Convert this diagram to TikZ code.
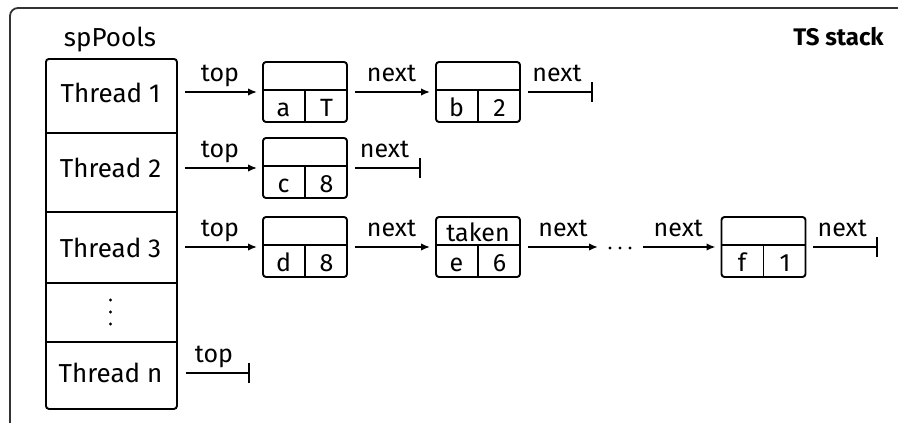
\documentclass[tikz,border=0pt]{standalone}
\usepackage{fontspec}
\setmainfont{Fira Sans}
\usetikzlibrary{arrows.meta,calc}

% one list element: name, position, top field, left field, right field
\newcommand{\listelem}[5]{%
  \node[elem] (#1) at (#2) {};
  \draw[line width=1.6pt] ([yshift=2pt]#1.west) -- ([yshift=2pt]#1.east);
  \draw[line width=1.6pt] ([yshift=2pt]#1.center) -- (#1.south);
  \node[field] at ($(#1.north)!0.5!([yshift=2pt]#1.center)$) {#3};
  \node[field] at ($(#1.south west)!0.5!([yshift=2pt]#1.center)$) {#4};
  \node[field] at ($(#1.south east)!0.5!([yshift=2pt]#1.center)$) {#5};
}

\begin{document}
\begin{tikzpicture}[x=1pt, y=-1pt, line width=1.9pt,
  font=\fontsize{26}{30}\selectfont,
  elem/.style={draw, rounded corners=3pt, minimum width=84pt,
    minimum height=60pt, inner sep=0pt},
  field/.style={inner sep=0pt, text height=21pt, text depth=0pt,
    font=\fontsize{25}{30}\selectfont},
  ptr/.style={-{Latex[length=9pt,width=7.5pt]}, shorten <=7pt, shorten >=5pt},
  nul/.style={-{Bar[width=20pt]}, shorten <=7pt},
  lbl/.style={anchor=base, yshift=11pt, inner sep=0pt,
    font=\fontsize{25}{30}\selectfont},
  dot/.style={fill, circle, inner sep=0pt, minimum size=3.2pt}]

  \useasboundingbox (0,0) rectangle (898,423);
  \clip (0,0) rectangle (898,423);

  % outer frame
  \draw[black!80, line width=1.8pt, rounded corners=8pt] (10,440) -- (10,8) -- (920,8);

  \node (title) at (888,37) [anchor=east, font=\fontsize{24}{28}\selectfont\bfseries] {TS stack};

  % per-thread pool array
  \node (cap) at (110,40) {spPools};
  \node[draw, rounded corners=3pt, minimum width=131pt, minimum height=350pt,
        inner sep=0pt, anchor=north west] (pool) at (45,58) {};
  \foreach \yy in {133,212,283,342}
    \draw (pool.west |- 0,\yy) -- (pool.east |- 0,\yy);
  \node (t1) at (110.5,92.5) {Thread 1};
  \node (t2) at (110.5,168) {Thread 2};
  \node (t3) at (110.5,247.5) {Thread 3};
  \node (tn) at (110.5,373) {Thread n};
  \node[dot] (v1) at (110.5,300) {};
  \node[dot] (v2) at (110.5,312) {};
  \node[dot] (v3) at (110.5,324) {};

  % list elements
  \listelem{e11}{305,92}{}{a}{T}
  \listelem{e12}{478,92}{}{b}{2}
  \listelem{e21}{305,168}{}{c}{8}
  \listelem{e31}{305,247}{}{d}{8}
  \listelem{e32}{478,247}{taken}{e}{6}
  \listelem{e33}{763.5,247}{}{f}{1}

  % loose ends
  \coordinate (z12) at (593,92);
  \coordinate (z21) at (421,168);
  \coordinate (z33) at (878,247);
  \coordinate (zn) at (250,373);
  \coordinate (dl) at (605,247);
  \coordinate (dr) at (636,247);
  \node[dot] (h1) at (610,248) {};
  \node[dot] (h2) at (620,248) {};
  \node[dot] (h3) at (630,248) {};

  % thread 1
  \draw[ptr] (pool.east |- e11.west) -- node[lbl] {top} (e11.west);
  \draw[ptr] (e11.east) -- node[lbl] {next} (e12.west);
  \draw[nul] (e12.east) -- node[lbl] {next} (z12);
  % thread 2
  \draw[ptr] (pool.east |- e21.west) -- node[lbl] {top} (e21.west);
  \draw[nul] (e21.east) -- node[lbl] {next} (z21);
  % thread 3
  \draw[ptr] (pool.east |- e31.west) -- node[lbl] {top} (e31.west);
  \draw[ptr] (e31.east) -- node[lbl] {next} (e32.west);
  \draw[ptr, shorten >=7pt] (e32.east) -- node[lbl] {next} (dl);
  \draw[ptr] (dr) -- node[lbl] {next} (e33.west);
  \draw[nul] (e33.east) -- node[lbl] {next} (z33);
  % thread n
  \draw[nul, shorten <=8pt] (pool.east |- tn) -- node[lbl] {top} (zn);
\end{tikzpicture}
\end{document}
